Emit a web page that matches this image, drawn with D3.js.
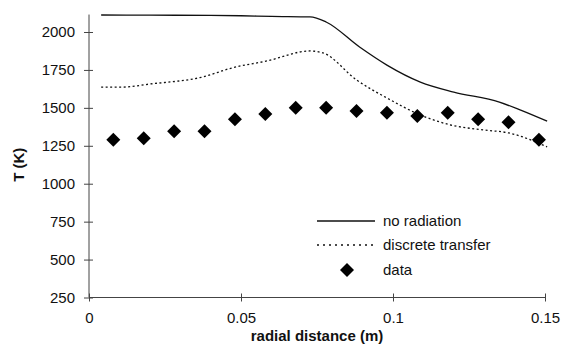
<!DOCTYPE html>
<html>
<head>
<meta charset="utf-8">
<script src="https://cdn.jsdelivr.net/npm/d3@7"></script>
<style>
  body { margin: 0; background: #fff; }
  text { font-family: "Liberation Sans", Arial, sans-serif; fill: #111; }
</style>
</head>
<body>
<svg id="chart" width="564" height="348"></svg>
<script>
// values
var noRadX = [0.004, 0.02, 0.04, 0.05, 0.06, 0.0727, 0.078, 0.089, 0.098, 0.109, 0.12, 0.135, 0.142, 0.1507]
var noRadT = [2112, 2111, 2109, 2107, 2103, 2100, 2066, 1901, 1782, 1670, 1604, 1538, 1485, 1412]

var dtX = [0.004, 0.011, 0.02, 0.0375, 0.047, 0.0585, 0.0727, 0.077, 0.088, 0.098, 0.109, 0.119, 0.13, 0.138, 0.1507]
var dtT = [1637, 1637, 1657, 1704, 1763, 1809, 1875, 1862, 1684, 1565, 1453, 1387, 1354, 1335, 1243]

var dataX = [0.008, 0.018, 0.028, 0.038, 0.048, 0.058, 0.068, 0.078, 0.088, 0.098, 0.108, 0.118, 0.128, 0.138, 0.148]
var dataT = [1290, 1300, 1345, 1345, 1425, 1460, 1500, 1500, 1480, 1467, 1447, 1467, 1425, 1405, 1290]

var xTicks = [0, 0.05, 0.1, 0.15]
var yTicks = [250, 500, 750, 1000, 1250, 1500, 1750, 2000]
var legendNames = ["no radiation", "discrete transfer", "data"]

var svg = d3.select("#chart")

var x = d3.scaleLinear().domain([0, 0.15]).range([89, 545])
var y = d3.scaleLinear().domain([250, 2000]).range([297.5, 32])

var axisColor = "#444"

// y axis
var yAxis = svg.append("g")
  .attr("transform", "translate(" + x(0) + ",0)")
  .call(d3.axisLeft(y).tickValues(yTicks).tickSize(5).tickFormat(d3.format("d")))
yAxis.select(".domain").attr("d", "M0," + y(250) + "V" + y(2115)).attr("stroke", axisColor)
yAxis.selectAll(".tick line").attr("x1", 4).attr("x2", -5).attr("stroke", axisColor)
yAxis.selectAll(".tick text").attr("x", -14).style("font-size", "15px").style("font-family", "Liberation Sans, Arial, sans-serif").attr("fill", "#111")

// x axis
var xAxis = svg.append("g")
  .attr("transform", "translate(0," + y(250) + ")")
  .call(d3.axisBottom(x).tickValues(xTicks).tickSize(4).tickFormat(d => d == 0 ? "0" : d3.format("")(d)))
xAxis.select(".domain").attr("d", "M" + x(0) + ",0H" + x(0.15)).attr("stroke", axisColor)
xAxis.selectAll(".tick line").attr("y1", -4).attr("y2", 4).attr("stroke", axisColor)
xAxis.selectAll(".tick text").attr("y", 15).style("font-size", "15px").style("font-family", "Liberation Sans, Arial, sans-serif").attr("fill", "#111")

// axis titles
svg.append("text")
  .attr("transform", "translate(24," + y(1125) + ") rotate(-90)")
  .attr("text-anchor", "middle")
  .style("font-size", "15px").style("font-weight", "bold")
  .text("T (K)")

svg.append("text")
  .attr("x", x(0.075)).attr("y", 341)
  .attr("text-anchor", "middle")
  .style("font-size", "15px").style("font-weight", "bold")
  .text("radial distance (m)")

var line = d3.line().curve(d3.curveMonotoneX)

svg.append("path")
  .attr("d", line(noRadX.map((d, i) => [x(d), y(noRadT[i])])))
  .attr("fill", "none").attr("stroke", "#111").attr("stroke-width", 1.3)

svg.append("path")
  .attr("d", line(dtX.map((d, i) => [x(d), y(dtT[i])])))
  .attr("fill", "none").attr("stroke", "#111").attr("stroke-width", 1.3)
  .attr("stroke-dasharray", "2,2.5")

var diamond = d3.symbol().type(d3.symbolSquare).size(98)

svg.append("g").selectAll("path")
  .data(dataX)
  .join("path")
    .attr("d", diamond)
    .attr("transform", (d, i) => "translate(" + x(d) + "," + y(dataT[i]) + ") rotate(45)")
    .attr("fill", "#000")

// legend
var leg = svg.append("g")
var rows = [221, 245, 270]
leg.selectAll("text")
  .data(legendNames)
  .join("text")
    .attr("x", 383).attr("y", (d, i) => rows[i] + 5)
    .style("font-size", "15px")
    .text(d => d)

leg.append("line").attr("x1", 317).attr("x2", 375).attr("y1", rows[0]).attr("y2", rows[0])
  .attr("stroke", "#111").attr("stroke-width", 1.3)
leg.append("line").attr("x1", 317).attr("x2", 375).attr("y1", rows[1]).attr("y2", rows[1])
  .attr("stroke", "#111").attr("stroke-width", 1.3).attr("stroke-dasharray", "2,4")
leg.append("path").attr("d", diamond)
  .attr("transform", "translate(347," + rows[2] + ") rotate(45)")
  .attr("fill", "#000")
</script>
</body>
</html>
